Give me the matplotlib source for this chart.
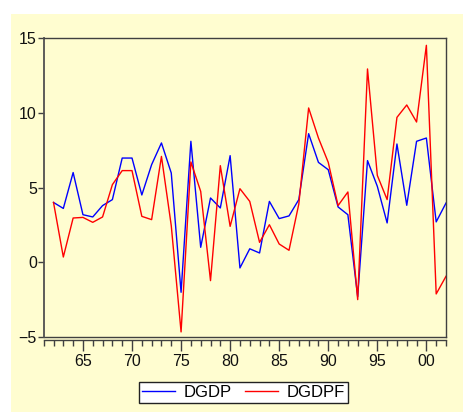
import matplotlib
matplotlib.use("Agg")
import matplotlib.pyplot as plt
from matplotlib.patches import Rectangle
from matplotlib.ticker import MultipleLocator, FuncFormatter

plt.rcParams['font.family'] = ['Liberation Sans', 'DejaVu Sans']

# annual growth series, 1962-2002
years = list(range(1962, 2003))
dgdp = [4.0, 3.6, 6.0, 3.18, 3.03, 3.79, 4.19, 6.97, 6.97, 4.5,
        6.53, 7.98, 5.97, -2.01, 8.09, 1.0, 4.3, 3.63, 7.13, -0.38,
        0.9, 0.62, 4.07, 2.92, 3.1, 4.19, 8.6, 6.68, 6.19, 3.7,
        3.18, -2.3, 6.8, 5.08, 2.63, 7.91, 3.81, 8.09, 8.31, 2.7,
        3.96]
dgdpf = [4.0, 0.35, 2.96, 3.0, 2.67, 3.03, 5.19, 6.13, 6.13, 3.07,
         2.85, 7.08, 2.45, -4.66, 6.71, 4.74, -1.23, 6.46, 2.4, 4.92,
         4.07, 1.33, 2.51, 1.22, 0.8, 3.9, 10.32, 8.31, 6.68, 3.79,
         4.7, -2.5, 12.93, 5.81, 4.19, 9.69, 10.52, 9.38, 14.51, -2.12,
         -0.94]

bg = '#FFFDD0'
frame = '#404040'

fig = plt.figure(figsize=(4.64, 4.12), dpi=100, facecolor='white')
fig.patches.append(Rectangle((11 / 464, 0), 1 - 11 / 464, 398 / 412,
                             transform=fig.transFigure, facecolor=bg,
                             edgecolor='none', zorder=-5))

ax = fig.add_axes([43.7 / 464, 75 / 412, 402.3 / 464, 299 / 412])
ax.set_facecolor(bg)
ax.plot(years, dgdp, color='#0000FF', lw=1.0, label='DGDP')
ax.plot(years, dgdpf, color='#FF0000', lw=1.0, label='DGDPF')

ax.set_xlim(1961, 2002)
ax.set_ylim(-5, 15)
ax.set_yticks([-5, 0, 5, 10, 15])
ax.xaxis.set_major_locator(MultipleLocator(5))
ax.xaxis.set_minor_locator(MultipleLocator(1))
ax.xaxis.set_major_formatter(FuncFormatter(lambda v, p: '%02d' % (int(round(v)) % 100)))

for side in ['top', 'right']:
    ax.spines[side].set_color(frame)
    ax.spines[side].set_linewidth(1.0)
ax.spines['left'].set_color('#505050')
ax.spines['left'].set_linewidth(1.3)
ax.spines['bottom'].set_color(frame)
ax.spines['bottom'].set_linewidth(1.0)
ax.spines['bottom'].set_position(('outward', 2))
# close the box along the bottom edge
ax.axhline(-5, color=frame, lw=1.0, clip_on=False)

ax.tick_params(axis='y', direction='out', length=4, width=1, color=frame,
               labelsize=11.5, pad=1, labelcolor='#111111')
ax.tick_params(axis='x', which='major', direction='out', length=8, width=1,
               color=frame, labelsize=11.5, pad=2, labelcolor='#111111')
ax.tick_params(axis='x', which='minor', direction='out', length=4, width=1,
               color=frame)

leg = fig.legend(loc='center', bbox_to_anchor=(243.5 / 464, 19.5 / 412), ncol=2,
                 fontsize=12, frameon=True, fancybox=False, framealpha=1,
                 facecolor='white', edgecolor='#222222', handlelength=2.0,
                 handletextpad=0.5, columnspacing=0.8, borderpad=0.2,
                 borderaxespad=0)
leg.get_frame().set_linewidth(1.0)

fig.savefig('out.png', dpi=100, facecolor='white')
